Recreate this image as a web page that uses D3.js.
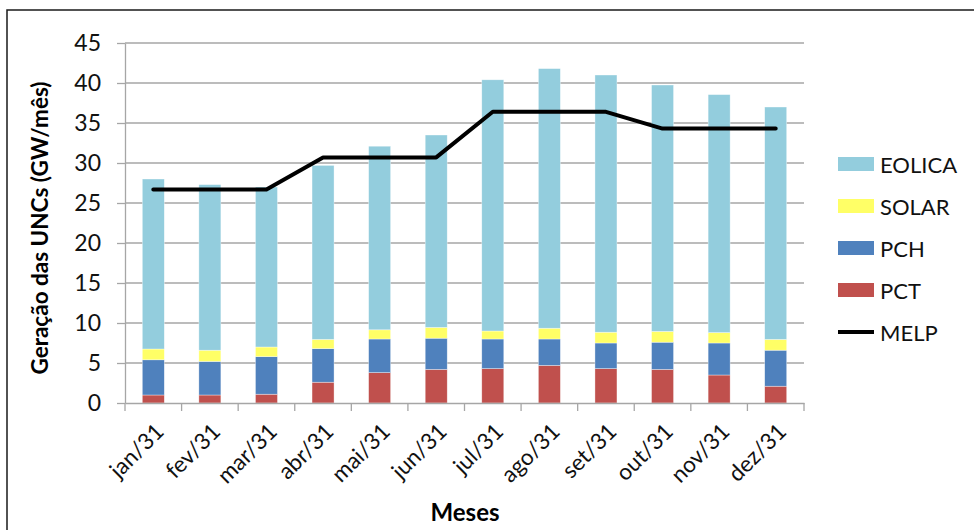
<!DOCTYPE html>
<html>
<head>
<meta charset="utf-8">
<script src="https://cdn.jsdelivr.net/npm/d3@7"></script>
<style>
  html, body { margin: 0; padding: 0; background: #fff; }
  svg { display: block; }
  text { font-family: Lato, "Open Sans", sans-serif; }
</style>
</head>
<body>
<svg id="chart" width="974" height="530"></svg>
<script>
const months = ["jan/31","fev/31","mar/31","abr/31","mai/31","jun/31","jul/31","ago/31","set/31","out/31","nov/31","dez/31"];
const pct    = [1.0, 1.0, 1.1, 2.6, 3.8, 4.2, 4.3, 4.7, 4.3, 4.2, 3.5, 2.1];
const pch    = [4.4, 4.2, 4.7, 4.2, 4.2, 3.9, 3.7, 3.3, 3.2, 3.4, 4.0, 4.5];
const solar  = [1.35, 1.4, 1.2, 1.15, 1.15, 1.35, 1.0, 1.35, 1.35, 1.35, 1.3, 1.35];
const eolica = [21.25, 20.7, 20.0, 21.75, 22.95, 24.05, 31.4, 32.45, 32.15, 30.8, 29.75, 29.05];
const melp   = [26.7, 26.7, 26.7, 30.7, 30.7, 30.7, 36.4, 36.4, 36.4, 34.3, 34.3, 34.3];
const yTicks = [0, 5, 10, 15, 20, 25, 30, 35, 40, 45];
const seriesNames = ["PCT", "PCH", "SOLAR", "EOLICA"];
const seriesColors = {PCT: "#C0504D", PCH: "#4F81BD", SOLAR: "#FFFF66", EOLICA: "#93CDDD"};
const legendOrder = ["EOLICA", "SOLAR", "PCH", "PCT", "MELP"];

const rows = months.map((m, i) => ({month: m, PCT: pct[i], PCH: pch[i], SOLAR: solar[i], EOLICA: eolica[i], MELP: melp[i]}));

const svg = d3.select("#chart");

// outer frame
svg.append("rect").attr("x", 7).attr("y", 10).attr("width", 980).attr("height", 540)
  .attr("fill", "none").attr("stroke", "#1a1a1a").attr("stroke-width", 1.5);

const x = d3.scaleBand().domain(months).range([125, 804]).paddingInner(0.611).paddingOuter(0.3055);
const y = d3.scaleLinear().domain([0, 45]).range([403, 43]);

// gridlines
svg.append("g").selectAll("line").data(yTicks.filter(t => t > 0)).join("line")
  .attr("x1", 125).attr("x2", 804)
  .attr("y1", d => y(d)).attr("y2", d => y(d))
  .attr("stroke", "#A6A6A6").attr("stroke-width", 1.3);

// bars
const stack = d3.stack().keys(seriesNames)(rows);
svg.append("g").selectAll("g").data(stack).join("g")
  .attr("fill", d => seriesColors[d.key])
  .selectAll("rect").data(d => d).join("rect")
  .attr("x", d => x(d.data.month))
  .attr("width", x.bandwidth())
  .attr("y", d => y(d[1]))
  .attr("height", d => y(d[0]) - y(d[1]))
  .attr("stroke", "rgba(255,255,255,0.6)").attr("stroke-width", 0.6);

// y axis
const yAxis = svg.append("g").attr("transform", "translate(125,0)")
  .call(d3.axisLeft(y).tickValues(yTicks).tickSize(8).tickPadding(16).tickSizeOuter(0));
yAxis.select(".domain").attr("stroke", "#A6A6A6").attr("stroke-width", 1.3);
yAxis.selectAll(".tick line").attr("stroke", "#A6A6A6").attr("stroke-width", 1.3);
yAxis.selectAll(".tick text").attr("font-size", 23).attr("fill", "#111").attr("font-family", "Lato, sans-serif");

// x axis
const xAxis = svg.append("g").attr("transform", "translate(0,403)")
  .call(d3.axisBottom(x).tickSize(0).tickFormat(d => d));
xAxis.select(".domain").attr("stroke", "#A6A6A6").attr("stroke-width", 1.3);
// boundary ticks
const bounds = months.map(m => x(m) - x.step() * x.paddingInner() / 2).concat([804]);
svg.append("g").selectAll("line").data(bounds).join("line")
  .attr("x1", d => d).attr("x2", d => d).attr("y1", 403).attr("y2", 411)
  .attr("stroke", "#A6A6A6").attr("stroke-width", 1.3);
xAxis.selectAll(".tick text")
  .attr("font-size", 22.5).attr("fill", "#111").attr("font-family", "Lato, sans-serif")
  .attr("text-anchor", "end")
  .attr("transform", "translate(4,22) rotate(-45)")
  .attr("dy", "0.5em").attr("y", 0);

// MELP line
const line = d3.line().x(d => x(d.month) + x.bandwidth() / 2).y(d => y(d.MELP));
svg.append("path").datum(rows).attr("d", line)
  .attr("fill", "none").attr("stroke", "#000").attr("stroke-width", 4)
  .attr("stroke-linejoin", "round").attr("stroke-linecap", "round");

// axis titles
svg.append("text").attr("transform", "translate(48,228) rotate(-90)")
  .attr("text-anchor", "middle").attr("font-size", 22.5).attr("font-weight", "bold").attr("fill", "#000")
  .text("Geração das UNCs (GW/mês)");
svg.append("text").attr("x", 465).attr("y", 521)
  .attr("text-anchor", "middle").attr("font-size", 24).attr("font-weight", "bold").attr("fill", "#000")
  .text("Meses");

// legend
const legend = svg.append("g").selectAll("g").data(legendOrder).join("g")
  .attr("transform", (d, i) => `translate(838,${164 + i * 42})`);
legend.each(function(d) {
  const g = d3.select(this);
  if (d === "MELP") {
    g.append("line").attr("x1", 0).attr("x2", 36).attr("y1", 0).attr("y2", 0)
      .attr("stroke", "#000").attr("stroke-width", 4);
  } else {
    g.append("rect").attr("x", 0).attr("y", -7).attr("width", 36).attr("height", 14)
      .attr("fill", seriesColors[d]);
  }
  g.append("text").attr("x", 42).attr("y", 1).attr("dy", "0.35em")
    .attr("font-size", 22).attr("fill", "#111").text(d);
});
</script>
</body>
</html>
